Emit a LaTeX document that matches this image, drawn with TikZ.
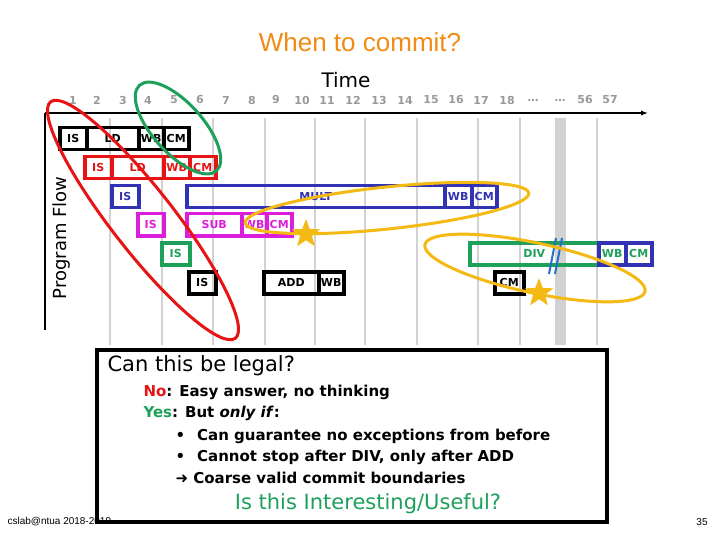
\documentclass[tikz,border=0pt]{standalone}
\usepackage{fontspec}
\setmainfont{DejaVu Sans}
\newfontfamily\titlefont{Liberation Sans}
\usetikzlibrary{shapes.geometric,arrows.meta}
\definecolor{tred}{RGB}{230,20,20}
\definecolor{tgreen}{RGB}{30,160,90}
\definecolor{tblue}{RGB}{50,50,180}
\definecolor{tmag}{RGB}{220,30,220}
\definecolor{tgold}{RGB}{245,185,20}
\definecolor{ttitle}{RGB}{240,140,20}
\begin{document}
\begin{tikzpicture}[x=1pt,y=-1pt,
  cell/.style={draw=#1,text=#1,line width=3.5pt,inner sep=0pt,minimum height=22pt,font=\bfseries\fontsize{11}{11}\selectfont,anchor=north west},
  grid/.style={draw=gray!35,line width=2pt},
  num/.style={text=gray!80,font=\bfseries\fontsize{11}{11}\selectfont},
  ring/.style={draw=#1,line width=3pt},
  body/.style={anchor=west,font=\bfseries\fontsize{15}{15}\selectfont},
  starnode/.style={star,star points=5,star point ratio=2.4,fill=tgold,minimum size=30pt,inner sep=0pt}]
\useasboundingbox (0,0) rectangle (720,540);
\fill[white] (0,0) rectangle (720,540);
% grid lines
\foreach \x in {110,162,213,265,315,365,417,478,520,597}
  \draw[grid] (\x,118) -- (\x,345);
\fill[gray!35] (555,118) rectangle (566,345);
% title
\node[text=ttitle,font=\titlefont\fontsize{26}{26}\selectfont] (title) at (360,42) {When to commit?};
\node[font=\fontsize{20}{20}\selectfont] (time) at (346,80) {Time};
% numbers
\foreach \x/\t in {73/1,97/2,123/3,148/4,174/5,200/6,226/7,252/8,276/9,302/10,327/11,353/12,379/13,405/14,431/15,456/16,481/17,507/18,533/…,560/…,585/56,610/57}
  \node[num] (n\t) at (\x,100) {\t};
% axes
\coordinate (o) at (45,113);
\coordinate (xe) at (648,113);
\coordinate (ye) at (45,330);
\draw[line width=2.5pt,-{Latex[length=7pt]}] (o) -- (xe);
\draw[line width=2.5pt] (o) -- (ye);
\node[rotate=90,font=\fontsize{18}{18}\selectfont] (pf) at (62,238) {Program Flow};
% row1
\node[cell=black,minimum width=27pt] (a1) at (58,126) {IS};
\node[cell=black,minimum width=52pt] (a2) at (85,126) {LD};
\node[cell=black,minimum width=25pt] (a3) at (137,126) {WB};
\node[cell=black,minimum width=25pt] (a4) at (162,126) {CM};
% row2
\node[cell=tred,minimum width=27pt] (b1) at (83,155) {IS};
\node[cell=tred,minimum width=52pt] (b2) at (110,155) {LD};
\node[cell=tred,minimum width=26pt] (b3) at (162,155) {WB};
\node[cell=tred,minimum width=26pt] (b4) at (188,155) {CM};
% row3
\node[cell=tblue,minimum width=27pt] (c1) at (110,184) {IS};
\node[cell=tblue,minimum width=258pt] (c2) at (185,184) {MULT};
\node[cell=tblue,minimum width=27pt] (c3) at (443,184) {WB};
\node[cell=tblue,minimum width=25pt] (c4) at (470,184) {CM};
% row4
\node[cell=tmag,minimum width=26pt] (d1) at (136,212) {IS};
\node[cell=tmag,minimum width=55pt] (d2) at (185,212) {SUB};
\node[cell=tmag,minimum width=25pt] (d3) at (240,212) {WB};
\node[cell=tmag,minimum width=25pt] (d4) at (265,212) {CM};
% row5
\node[cell=tgreen,minimum width=28pt] (e1) at (160,241) {IS};
\node[cell=tgreen,minimum width=129pt] (e2) at (468,241) {DIV};
\node[cell=tblue,text=tgreen,minimum width=27pt] (e3) at (597,241) {WB};
\node[cell=tblue,text=tgreen,minimum width=26pt] (e4) at (624,241) {CM};
% row6
\node[cell=black,minimum width=27pt] (f1) at (187,270) {IS};
\node[cell=black,minimum width=55pt] (f2) at (262,270) {ADD};
\node[cell=black,minimum width=25pt] (f3) at (317,270) {WB};
\node[cell=black,minimum width=29pt] (f4) at (493,270) {CM};
% break marks
\coordinate (k1a) at (549,274); \coordinate (k1b) at (556,238);
\coordinate (k2a) at (555,274); \coordinate (k2b) at (562,238);
\draw[tblue!70!cyan,line width=2pt] (k1a) -- (k1b) (k2a) -- (k2b);
% ellipses
\node[ellipse,ring=tred,minimum width=300pt,minimum height=62pt,rotate=-52] (r1) at (143,220) {};
\node[ellipse,ring=tgreen,minimum width=115pt,minimum height=50pt,rotate=-48] (r2) at (178,128) {};
\node[ellipse,ring=tgold,minimum width=285pt,minimum height=42pt,rotate=6] (r3) at (387,208) {};
\node[ellipse,ring=tgold,minimum width=225pt,minimum height=50pt,rotate=-12] (r4) at (535,268) {};
% stars
\node[starnode] (s1) at (306,234) {};
\node[starnode] (s2) at (539,293) {};
% text box
\node[draw=black,line width=3.5pt,fill=white,minimum width=510pt,minimum height=172pt,anchor=north west] (box) at (95,348) {};
\node[anchor=west,font=\fontsize{21}{21}\selectfont] (q) at (104,366) {Can this be legal?};
\node[body] (l1) at (140,392) {\textcolor{tred}{No}: Easy answer, no thinking};
\node[body] (l2) at (140,413) {\textcolor{tgreen}{Yes}: But \textit{only if}:};
\node[body] (l3) at (172,436) {•\hspace{12pt}Can guarantee no exceptions from before};
\node[body] (l4) at (172,457) {•\hspace{12pt}Cannot stop after DIV, only after ADD};
\node[body] (l5) at (172,478) {➜ Coarse valid commit boundaries};
\node[text=tgreen,font=\fontsize{21}{21}\selectfont] (l6) at (368,504) {Is this Interesting/Useful?};
% footer
\node[anchor=west,font=\titlefont\fontsize{10}{10}\selectfont] (ft) at (4,522) {cslab@ntua 2018-2019};
\node[font=\titlefont\fontsize{10}{10}\selectfont] (pg) at (702,522) {35};
\end{tikzpicture}
\end{document}
